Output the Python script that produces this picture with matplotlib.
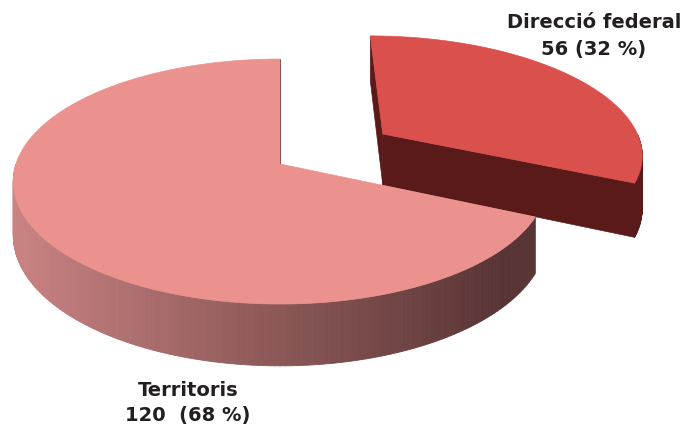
import numpy as np
import matplotlib.pyplot as plt
from matplotlib.patches import Polygon
from matplotlib.colors import to_rgb

labels = ['Direcció federal', 'Territoris']
values = [56, 120]
value_labels = ['56 (32 %)', '120  (68 %)']

top_colors = ['#d9504d', '#eb928e']
side_left = ['#5b1a1a', '#c98282']
side_right = ['#5b1a1a', '#583434']
explode = [0.48, 0.0]

# fake 3d view, in pixel units of the figure
cx, cy = 280, 164
rx, ry = 264, 120
depth = 53
persp = 0.143
start = 90


def project(x, y, z):
    f = 1.0 / (1.0 + persp * y)
    return cx + rx * x * f, cy - ry * y * f - depth * z * f


def mix(c1, c2, t):
    a, b = np.array(to_rgb(c1)), np.array(to_rgb(c2))
    return tuple(a + (b - a) * np.clip(t, 0, 1))


fig = plt.figure(figsize=(6.88, 4.28), dpi=100)
ax = fig.add_axes([0, 0, 1, 1])
ax.set_xlim(0, 688)
ax.set_ylim(428, 0)
ax.axis('off')

total = sum(values)
angle = start
slices = []
for v, ex in zip(values, explode):
    sweep = 360.0 * v / total
    mid = np.radians(angle - sweep / 2)
    slices.append((angle, sweep, ex * np.cos(mid), ex * np.sin(mid)))
    angle -= sweep

for i, (s, sweep, ox, oy) in enumerate(slices):
    th = np.radians(np.linspace(s, s - sweep, 241))
    xs = ox + np.cos(th)
    ys = oy + np.sin(th)

    # radial cut faces
    for e, nrm in [(s, s + 90), (s - sweep, s - sweep - 90)]:
        if np.sin(np.radians(nrm)) <= 1e-6:
            ex_, ey_ = ox + np.cos(np.radians(e)), oy + np.sin(np.radians(e))
            pts = [project(ox, oy, 0), project(ex_, ey_, 0),
                   project(ex_, ey_, -1), project(ox, oy, -1)]
            ax.add_patch(Polygon(pts, fc=side_right[i], ec=side_right[i], lw=0.5))

    # outer wall, front part only, shaded left to right
    for j in range(len(th) - 1):
        if np.sin((th[j] + th[j + 1]) / 2) >= 0:
            continue
        pts = [project(xs[j], ys[j], 0), project(xs[j + 1], ys[j + 1], 0),
               project(xs[j + 1], ys[j + 1], -1), project(xs[j], ys[j], -1)]
        t = (pts[0][0] - 15) / 490.0
        c = mix(side_left[i], side_right[i], t)
        ax.add_patch(Polygon(pts, fc=c, ec=c, lw=0.6))

    top = [project(ox, oy, 0)] + [project(a, b, 0) for a, b in zip(xs, ys)]
    ax.add_patch(Polygon(top, fc=top_colors[i], ec=top_colors[i], lw=0.5))

txt = dict(ha='center', va='center', fontsize=14, fontweight='bold', color='#231f20')
ax.text(594, 22, labels[0], **txt)
ax.text(594, 49, value_labels[0], **txt)
ax.text(188, 390, labels[1], **txt)
ax.text(188, 416, value_labels[1], **txt)

fig.savefig('out.png', dpi=100)
